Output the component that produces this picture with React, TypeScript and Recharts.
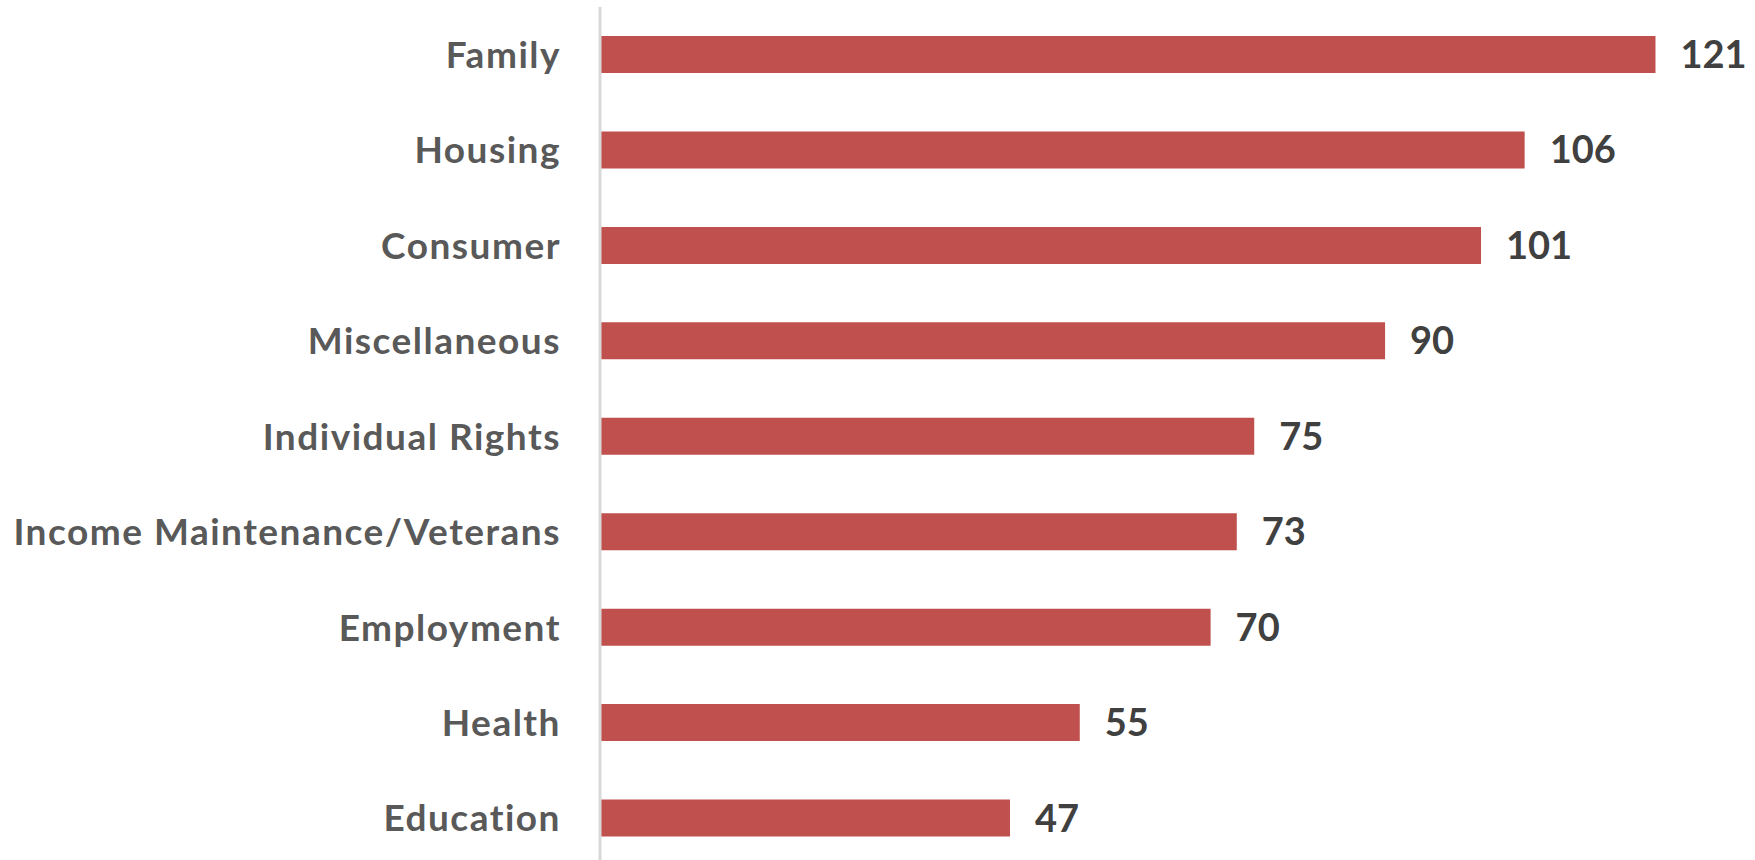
import { BarChart, Bar, XAxis, YAxis, LabelList } from "recharts";

// Caseload by problem area (count)
const categories = [
  "Family",
  "Housing",
  "Consumer",
  "Miscellaneous",
  "Individual Rights",
  "Income Maintenance/Veterans",
  "Employment",
  "Health",
  "Education",
];
const counts = [121, 106, 101, 90, 75, 73, 70, 55, 47];

const FONT = "Lato, 'Open Sans', sans-serif";
const BAR_RED = "#C0504D";

export default function App() {
  const data = categories.map((name, i) => ({ name, count: counts[i] }));

  return (
    <div style={{ position: "absolute", left: 0, top: 0, width: 1755, height: 870 }}>
      <style>{"body{margin:0;background:#fff}"}</style>
      <BarChart
        width={1755}
        height={870}
        data={data}
        layout="vertical"
        margin={{ top: 7, right: 21, bottom: 4, left: 0 }}
        barSize={37}
      >
        <XAxis type="number" hide domain={[0, 130]} />
        <YAxis
          type="category"
          dataKey="name"
          width={600}
          tickLine={false}
          tickSize={0}
          tickMargin={39}
          axisLine={{ stroke: "#D9D9D9", strokeWidth: 3 }}
          tick={{
            fontFamily: FONT,
            fontWeight: 700,
            fontSize: 37,
            letterSpacing: 1.5,
            fill: "#595959",
          }}
        />
        <Bar dataKey="count" fill={BAR_RED} isAnimationActive={false}>
          <LabelList
            dataKey="count"
            position="right"
            offset={25}
            style={{ fontFamily: FONT, fontWeight: 700, fontSize: 38, fill: "#404040" }}
          />
        </Bar>
      </BarChart>
    </div>
  );
}
